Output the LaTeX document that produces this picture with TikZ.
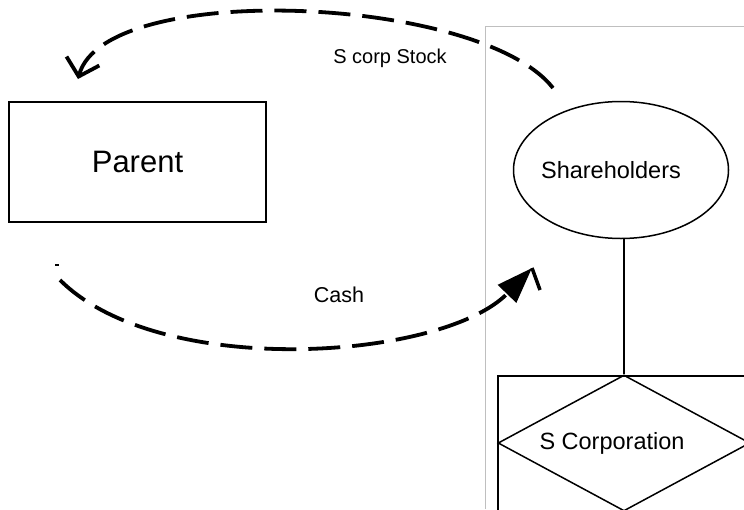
\documentclass[tikz,border=0pt]{standalone}
\usepackage{fontspec}
\setmainfont{Liberation Sans}
\usetikzlibrary{shapes.geometric,arrows.meta}
\begin{document}
\begin{tikzpicture}[x=1pt,y=-1pt,
  box/.style={draw, line width=2pt, inner sep=0pt},
  thinshape/.style={draw, line width=1.5pt, inner sep=0pt},
  flow/.style={line width=3.8pt, dash pattern=on 32pt off 12pt},
  panel/.style={draw=black!25, line width=1pt},
  bigtxt/.style={font=\fontsize{31}{36}\selectfont},
  midtxt/.style={font=\fontsize{23.5}{28}\selectfont},
  smalltxt/.style={font=\fontsize{20}{24}\selectfont},
  cashtxt/.style={font=\fontsize{21.5}{26}\selectfont}]
\useasboundingbox (0,0) rectangle (744,509);
\begin{scope}
\clip (0,0) rectangle (744,509);
% light panel behind the shareholder side
\draw[panel] (485,509) -- (485,26) -- (744,26);
% corporation box and diamond, both running off the page
\node[box, anchor=north west, minimum width=320pt, minimum height=200pt] (corp) at (497,375) {};
\node[thinshape, diamond, minimum width=252pt, minimum height=136pt,
      label={[midtxt, xshift=-12pt]center:S Corporation}] (scorp) at (624,443) {};
% shareholders
\node[thinshape, ellipse, minimum width=215pt, minimum height=137pt,
      label={[midtxt, xshift=-10pt]center:Shareholders}] (holders) at (621,170) {};
\draw[line width=2pt] (scorp.north) -- (scorp.north |- holders.south);
% parent company
\node[box, bigtxt, minimum width=257pt, minimum height=120pt] (parent) at (137.5,162) {Parent};
% stock goes to the parent
\coordinate (stockfrom) at (553,88);
\coordinate (stockto) at (78,79);
\draw[flow, -{Straight Barb[length=16pt,width=34pt]}]
  (stockfrom) .. controls (480,-5) and (105,-20) .. (stockto);
\node[smalltxt] (stocklbl) at (390,58) {S corp Stock};
% cash goes to the shareholders
\coordinate (cashfrom) at (60,280);
\coordinate (cashto) at (532,268);
\draw[flow, -{Triangle[length=36pt,width=25pt]}]
  (cashfrom) .. controls (160,380) and (443,360) .. (cashto);
\draw[line width=3.5pt] (cashto) -- ++(8,22);
\draw[line width=1.5pt] (55,265) -- (59,265);
\node[cashtxt] (cashlbl) at (339,295) {Cash};
\end{scope}
\end{tikzpicture}
\end{document}
